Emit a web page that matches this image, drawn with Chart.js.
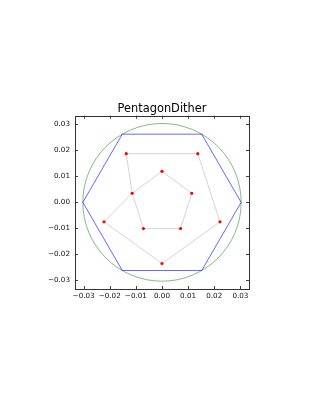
<!DOCTYPE html>
<html>
<head>
<meta charset="utf-8">
<script src="https://cdn.jsdelivr.net/npm/chart.js@4.4.1/dist/chart.umd.min.js"></script>
<style>
html, body { margin: 0; padding: 0; background: #fff; }
</style>
</head>
<body>
<canvas id="chart" width="318" height="411"></canvas>
<script>
const AXIS_LIMIT = 0.0333;
const tickValues = [-0.03, -0.02, -0.01, 0, 0.01, 0.02, 0.03];
const tickLabels = ['\u22120.03', '\u22120.02', '\u22120.01', '0.00', '0.01', '0.02', '0.03'];

// green circle (centre + radius)
const circleCenter = [0, 0];
const circleRadius = 0.0303;

// blue hexagon, closed
const hexagonX = [0.0303, 0.0152, -0.0152, -0.0303, -0.0152, 0.0152, 0.0303];
const hexagonY = [0, 0.0262, 0.0262, 0, -0.0262, -0.0262, 0];

// red dither points: inner pentagon then outer pentagon
const ditherX = [0, 0.0114, 0.0071, -0.0071, -0.0114, 0, 0.0222, 0.0137, -0.0137, -0.0222];
const ditherY = [0.0119, 0.0035, -0.0101, -0.0101, 0.0035, -0.0235, -0.0075, 0.0187, 0.0187, -0.0075];
// order the grey path visits the points
const pathOrder = [7, 8, 4, 3, 2, 1, 0, 4, 9, 5, 6, 7];

const toXY = (xs, ys) => xs.map((v, i) => ({ x: v, y: ys[i] }));

const circlePlugin = {
    id: 'circle',
    beforeDatasetsDraw(chart) {
        const { ctx, chartArea, scales: { x, y } } = chart;
        const cx = x.getPixelForValue(circleCenter[0]);
        const cy = y.getPixelForValue(circleCenter[1]);
        const rx = x.getPixelForValue(circleCenter[0] + circleRadius) - cx;
        const ry = cy - y.getPixelForValue(circleCenter[1] + circleRadius);
        ctx.save();
        ctx.beginPath();
        ctx.rect(chartArea.left, chartArea.top, chartArea.width, chartArea.height);
        ctx.clip();
        ctx.beginPath();
        ctx.ellipse(cx, cy, rx, ry, 0, 0, Math.PI * 2);
        ctx.strokeStyle = 'rgba(0, 128, 0, 0.5)';
        ctx.lineWidth = 1;
        ctx.stroke();
        ctx.restore();
    }
};

// frame + inward ticks on all four sides
const framePlugin = {
    id: 'frame',
    afterDraw(chart) {
        const { ctx, chartArea: a, scales: { x, y } } = chart;
        const len = 3;
        ctx.save();
        ctx.strokeStyle = '#444';
        ctx.lineWidth = 1;
        ctx.beginPath();
        x.ticks.forEach(t => {
            const px = Math.round(x.getPixelForValue(t.value)) + 0.5;
            ctx.moveTo(px, a.bottom); ctx.lineTo(px, a.bottom - len);
            ctx.moveTo(px, a.top); ctx.lineTo(px, a.top + len);
        });
        y.ticks.forEach(t => {
            const py = Math.round(y.getPixelForValue(t.value)) + 0.5;
            ctx.moveTo(a.left, py); ctx.lineTo(a.left + len, py);
            ctx.moveTo(a.right, py); ctx.lineTo(a.right - len, py);
        });
        ctx.stroke();
        ctx.strokeStyle = '#333';
        ctx.strokeRect(Math.round(a.left) + 0.5, Math.round(a.top) + 0.5,
            Math.round(a.width), Math.round(a.height));
        ctx.restore();
    }
};

const tickFont = { family: "'DejaVu Sans', sans-serif", size: 7.2 };

function axis(position, fit) {
    return {
        type: 'linear',
        position: position,
        min: -AXIS_LIMIT,
        max: AXIS_LIMIT,
        grid: { display: false, drawTicks: false },
        border: { display: false },
        afterBuildTicks: scale => { scale.ticks = tickValues.map(v => ({ value: v })); },
        afterFit: fit,
        ticks: {
            font: tickFont,
            color: '#111',
            padding: position === 'left' ? 5 : 3,
            autoSkip: false,
            maxRotation: 0,
            callback: (value, index) => tickLabels[index]
        }
    };
}

new Chart(document.getElementById('chart'), {
    type: 'scatter',
    data: {
        datasets: [
            {
                label: 'points',
                data: toXY(ditherX, ditherY),
                showLine: false,
                pointRadius: 1.6,
                pointBackgroundColor: '#ff0000',
                pointBorderWidth: 0
            },
            {
                label: 'path',
                data: pathOrder.map(i => ({ x: ditherX[i], y: ditherY[i] })),
                showLine: true,
                borderColor: '#d4d4d4',
                borderWidth: 1,
                pointRadius: 0,
                tension: 0
            },
            {
                label: 'hexagon',
                data: toXY(hexagonX, hexagonY),
                showLine: true,
                borderColor: 'rgba(0, 0, 255, 0.6)',
                borderWidth: 1,
                pointRadius: 0,
                tension: 0
            }
        ]
    },
    options: {
        responsive: false,
        animation: false,
        devicePixelRatio: 1,
        events: [],
        layout: { padding: { left: 30, right: 69, top: 102, bottom: 102 } },
        plugins: {
            legend: { display: false },
            tooltip: { enabled: false },
            title: {
                display: true,
                text: 'PentagonDither',
                fullSize: false,
                color: '#000',
                font: { family: "'DejaVu Sans', sans-serif", size: 11.4, weight: 'normal', lineHeight: 1.2 },
                padding: { top: 0, bottom: 0 }
            }
        },
        scales: {
            x: axis('bottom', s => { s.height = 20; }),
            y: axis('left', s => { s.width = 45; })
        }
    },
    plugins: [circlePlugin, framePlugin]
});
</script>
</body>
</html>
